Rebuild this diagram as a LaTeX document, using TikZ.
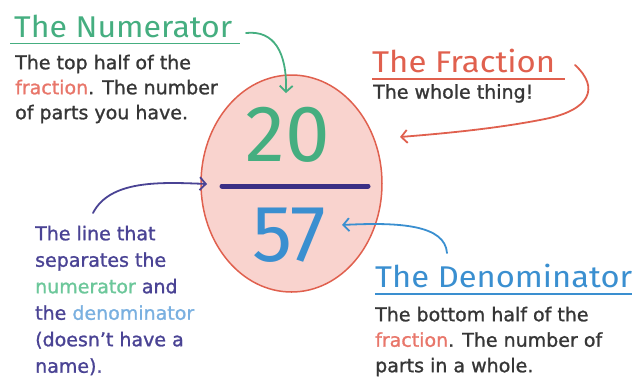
\documentclass[tikz,border=0pt]{standalone}
\usepackage{fontspec}
\usepackage{graphicx}
\setmainfont{Fira Sans}
\newfontfamily\bodyfont[FakeBold=1.2]{DejaVu Sans}
\usetikzlibrary{arrows.meta,shapes.geometric}
\definecolor{numgreen}{HTML}{45AE80}
\definecolor{lightgreen}{HTML}{6CC79A}
\definecolor{denblue}{HTML}{3A8FD0}
\definecolor{lightblue}{HTML}{7AB0E0}
\definecolor{fracred}{HTML}{E0604E}
\definecolor{lightred}{HTML}{E8766A}
\definecolor{barpurple}{HTML}{3B2F85}
\definecolor{linepurple}{HTML}{4A4394}
\definecolor{bodygray}{HTML}{363636}
\definecolor{ellfill}{HTML}{F9D3CE}
\newcommand{\ttlbox}[2]{\resizebox{#1}{\height}{#2}}
\begin{document}
\begin{tikzpicture}[x=1pt,y=-1pt,
  title/.style={anchor=base west, inner sep=0pt, font=\fontsize{30}{30}\selectfont},
  body/.style={anchor=north west, inner sep=0pt, align=left, font=\bodyfont\fontsize{19}{26.5}\selectfont},
  bignum/.style={inner sep=0pt, font=\fontsize{80}{80}\selectfont},
  pointer/.style={-{Straight Barb[length=6pt,width=13pt]}, line width=1.8pt, line cap=round},
  uline/.style={line width=1.6pt},
]
\useasboundingbox (0,0) rectangle (635,376);
% fraction ellipse
\node (frac) [ellipse, draw=fracred, line width=1.5pt, fill=ellfill, minimum width=181pt, minimum height=217pt] at (291.5,183.5) {};
\node (num) [bignum, text=numgreen] at (288,135) {20};
\node (den) [bignum, text=denblue] at (289,235) {57};
\coordinate (barL) at (222,186);
\coordinate (barR) at (368,186);
\draw[barpurple, line width=5pt, line cap=round] (barL) -- (barR);

% numerator
\node (numtitle) [title, text=numgreen] at (14,37) {\ttlbox{218pt}{The Numerator}};
\coordinate (nulA) at (10,43.5); \coordinate (nulB) at (240,43.5);
\draw[uline, numgreen] (nulA) -- (nulB);
\node (numbody) [body, text=bodygray, font=\bodyfont\fontsize{19}{25}\selectfont] at (15,54.6) {The top half of the\\ \textcolor{lightred}{fraction}. The number\\ of parts you have.};
\coordinate (numstart) at (246,33);
\coordinate (numtip) at (286,93);
\draw[pointer, numgreen] (numstart) .. controls (274,30) and (287,52) .. (numtip);

% fraction
\node (fractitle) [title, text=fracred] at (372,72) {\ttlbox{183pt}{The Fraction}};
\coordinate (fulA) at (372,79); \coordinate (fulB) at (565,79);
\draw[uline, fracred] (fulA) -- (fulB);
\node (fracbody) [body, text=bodygray] at (373,84) {The whole thing!};
\coordinate (fracstart) at (575,65);
\coordinate (fracmid) at (545,119);
\coordinate (fractip) at (400,137);
\draw[pointer, fracred] (fracstart) .. controls (600,88) and (590,110) .. (fracmid) .. controls (500,128) and (450,133) .. (fractip);

% line
\node (linebody) [body, text=linepurple] at (35,225.6) {The line that\\ separates the\\ \textcolor{lightgreen}{numerator} and\\ the \textcolor{lightblue}{denominator}\\ (doesn’t have a\\ name).};
\coordinate (linestart) at (93,213);
\coordinate (linetip) at (207,184);
\draw[pointer, linepurple] (linestart) .. controls (110,180) and (160,182) .. (linetip);

% denominator
\node (dentitle) [title, text=denblue] at (375,287) {\ttlbox{257pt}{The Denominator}};
\coordinate (dulA) at (375,294); \coordinate (dulB) at (632,294);
\draw[uline, denblue] (dulA) -- (dulB);
\node (denbody) [body, text=bodygray, font=\bodyfont\fontsize{19}{25.5}\selectfont] at (375,306.6) {The bottom half of the\\ \textcolor{lightred}{fraction}. The number of\\ parts in a whole.};
\coordinate (denstart) at (447,253);
\coordinate (dentip) at (342,225);
\draw[pointer, denblue] (denstart) .. controls (445,225) and (400,222) .. (dentip);
\end{tikzpicture}
\end{document}
